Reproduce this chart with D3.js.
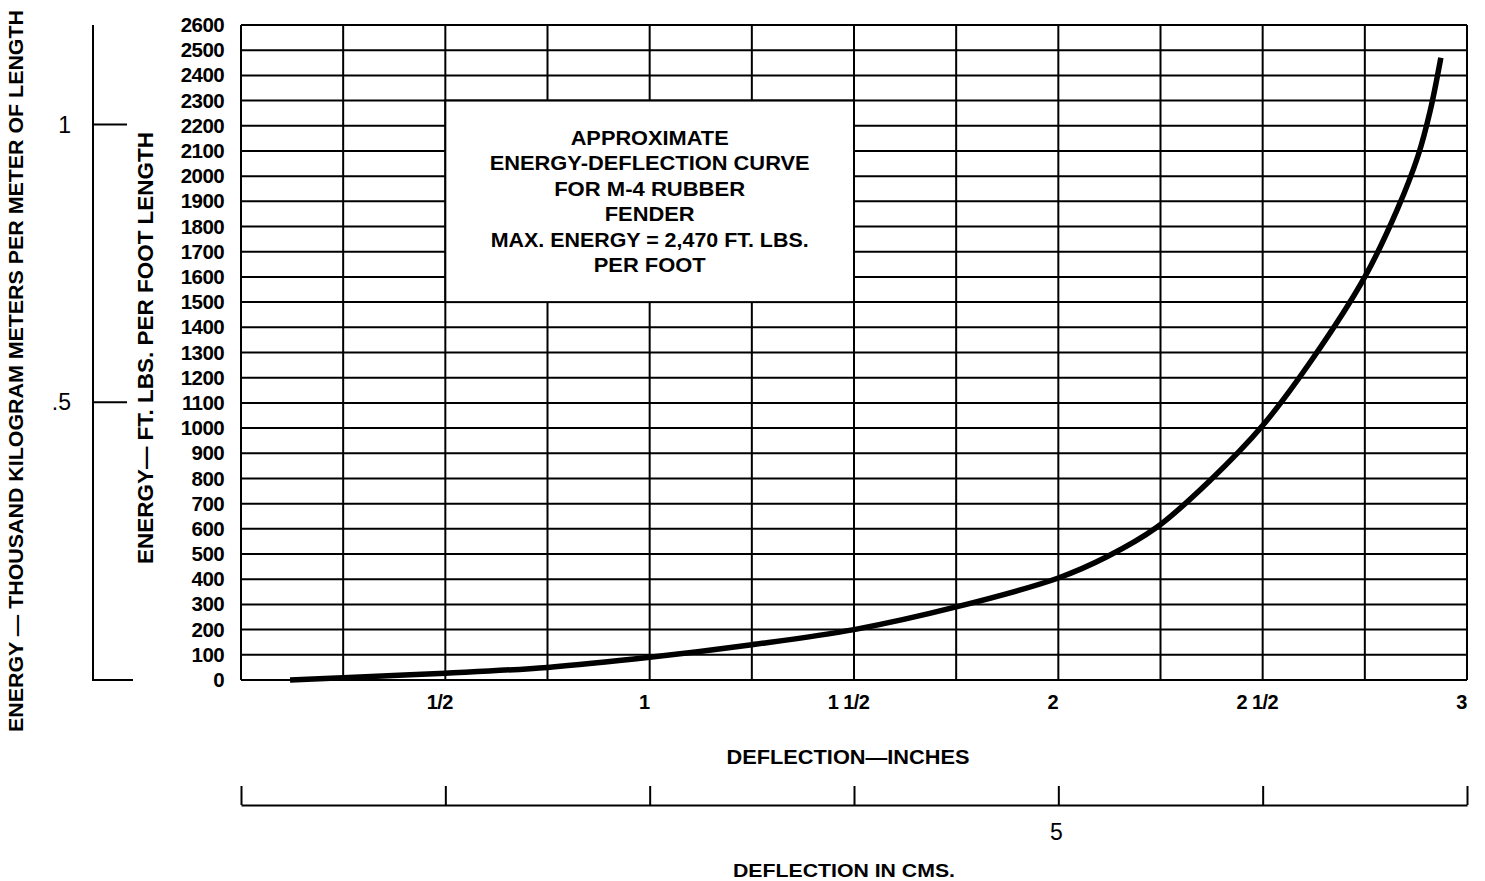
<!DOCTYPE html>
<html>
<head>
<meta charset="utf-8">
<script src="https://cdn.jsdelivr.net/npm/d3@7"></script>
<style>
  html, body { margin: 0; padding: 0; background: #fff; }
  svg { display: block; font-family: "Liberation Sans", Arial, Helvetica, sans-serif; }
</style>
</head>
<body>
<svg id="chart" width="1485" height="881"></svg>
<script>
// ---------- data ----------
const deflectionIn = [0.12, 0.25, 0.5, 0.75, 1.0, 1.25, 1.5, 1.75, 2.0, 2.12, 2.24, 2.37, 2.5, 2.62, 2.75, 2.83, 2.88, 2.91, 2.936];
const energyFtLb   = [0, 9, 27, 50, 90, 140, 200, 290, 405, 490, 605, 790, 1010, 1270, 1600, 1870, 2080, 2260, 2470];

const yTickValues = d3.range(0, 2601, 100);
const xGridValues = d3.range(0, 3.0001, 0.25);
const xTickValues = [0.5, 1, 1.5, 2, 2.5, 3];
const xTickLabels = ["1/2", "1", "1 1/2", "2", "2 1/2", "3"];
const cmTickValues = [0, 1.27, 2.54, 3.81, 5.08, 6.35, 7.62];
const cmTickLabels = ["", "", "", "", "5", "", ""];
const kgTickValues = [0, 0.5, 1];
const kgTickLabels = ["", ".5", "1"];
const boxLines = ["APPROXIMATE", "ENERGY-DEFLECTION CURVE", "FOR M-4 RUBBER", "FENDER", "MAX. ENERGY = 2,470 FT. LBS.", "PER FOOT"];
const boxWidths = [158, 320, 191, 90, 318, 112];

// ---------- scales ----------
const svg = d3.select("#chart");
const x = d3.scaleLinear().domain([0, 3]).range([241, 1467]);
const y = d3.scaleLinear().domain([0, 2600]).range([680, 25]);
const xcm = d3.scaleLinear().domain([0, 7.62]).range([241, 1467]);
const FTLB_TO_KGM = 0.45359 / 1000; // ft-lb/ft -> thousand kg-m/m
const ykg = d3.scaleLinear().domain([0, 2600 * FTLB_TO_KGM]).range([680, 25]);

// ---------- grid ----------
const g = svg.append("g");
g.selectAll("line.h").data(yTickValues).join("line")
  .attr("x1", x(0)).attr("x2", x(3))
  .attr("y1", d => y(d)).attr("y2", d => y(d))
  .attr("stroke", "#000").attr("stroke-width", 2);
g.selectAll("line.v").data(xGridValues).join("line")
  .attr("class", "v")
  .attr("x1", d => x(d)).attr("x2", d => x(d))
  .attr("y1", y(0)).attr("y2", y(2600))
  .attr("stroke", "#000").attr("stroke-width", 2);

// ---------- annotation box ----------
svg.append("rect")
  .attr("x", x(0.5)).attr("y", y(2300))
  .attr("width", x(1.5) - x(0.5)).attr("height", y(1500) - y(2300))
  .attr("fill", "#fff").attr("stroke", "#000").attr("stroke-width", 2);
svg.append("g").selectAll("text").data(boxLines).join("text")
  .attr("x", x(1))
  .attr("y", (d, i) => 145 + i * 25.4)
  .attr("text-anchor", "middle")
  .attr("font-size", 21)
  .attr("font-weight", "bold")
  .attr("textLength", (d, i) => boxWidths[i])
  .attr("lengthAdjust", "spacingAndGlyphs")
  .text(d => d);

// ---------- y axis (ft-lb) ----------
const yAxis = d3.axisLeft(y).tickValues(yTickValues).tickSize(0).tickPadding(0).tickFormat(d3.format("d"));
const ya = svg.append("g").attr("transform", "translate(224,0)").call(yAxis);
ya.select(".domain").remove();
ya.selectAll("text").attr("font-size", 20.5).attr("font-weight", "bold")
  .attr("font-family", "'Liberation Sans', Arial, sans-serif").attr("fill", "#000")
  .attr("letter-spacing", "-0.6");

// ---------- x axis (inches) ----------
const xAxis = d3.axisBottom(x).tickValues(xTickValues).tickSize(0).tickPadding(0)
  .tickFormat((d, i) => xTickLabels[i]);
const xa = svg.append("g").attr("transform", "translate(-6,695)").call(xAxis);
xa.select(".domain").remove();
xa.selectAll("text").attr("font-size", 20).attr("font-weight", "bold")
  .attr("font-family", "'Liberation Sans', Arial, sans-serif").attr("fill", "#000")
  .attr("letter-spacing", "-0.6");

svg.append("text").attr("x", 848).attr("y", 764).attr("text-anchor", "middle")
  .attr("font-size", 20).attr("font-weight", "bold")
  .attr("textLength", 243).attr("lengthAdjust", "spacingAndGlyphs")
  .text("DEFLECTION\u2014INCHES");

// ---------- cm axis ----------
const cmAxis = d3.axisTop(xcm).tickValues(cmTickValues).tickSizeInner(19).tickSizeOuter(0)
  .tickFormat(() => "");
const ca = svg.append("g").attr("transform", "translate(0,805)").call(cmAxis);
ca.selectAll("line, path").attr("stroke", "#000").attr("stroke-width", 2);
svg.append("g").selectAll("text").data(cmTickValues.filter((d, i) => cmTickLabels[i] !== "")).join("text")
  .attr("x", d => xcm(d) - 2).attr("y", 840)
  .attr("text-anchor", "middle").attr("font-size", 23)
  .text(d => cmTickLabels[cmTickValues.indexOf(d)]);
svg.append("text").attr("x", 844).attr("y", 877).attr("text-anchor", "middle")
  .attr("font-size", 18).attr("font-weight", "bold")
  .attr("textLength", 222).attr("lengthAdjust", "spacingAndGlyphs")
  .text("DEFLECTION IN CMS.");

// ---------- secondary y axis (thousand kg-m per m) ----------
const sec = svg.append("g");
sec.append("line").attr("x1", 93).attr("x2", 93).attr("y1", ykg.range()[1]).attr("y2", ykg(0) + 1)
  .attr("stroke", "#000").attr("stroke-width", 2);
sec.selectAll("line.t").data(kgTickValues).join("line").attr("class", "t")
  .attr("x1", 92).attr("x2", d => d === 0 ? 133 : 127)
  .attr("y1", d => ykg(d)).attr("y2", d => ykg(d))
  .attr("stroke", "#000").attr("stroke-width", 2);
sec.selectAll("text").data(kgTickValues.filter((d, i) => kgTickLabels[i] !== "")).join("text")
  .attr("x", 71).attr("y", d => ykg(d) + 8)
  .attr("text-anchor", "end").attr("font-size", 23)
  .text(d => kgTickLabels[kgTickValues.indexOf(d)]);

// ---------- axis titles ----------
svg.append("text")
  .attr("transform", "translate(23,371) rotate(-90)")
  .attr("text-anchor", "middle").attr("font-size", 20.5).attr("font-weight", "bold")
  .attr("textLength", 722).attr("lengthAdjust", "spacingAndGlyphs")
  .text("ENERGY \u2014 THOUSAND KILOGRAM METERS PER METER OF LENGTH");
svg.append("text")
  .attr("transform", "translate(153,348) rotate(-90)")
  .attr("text-anchor", "middle").attr("font-size", 22).attr("font-weight", "bold")
  .attr("textLength", 432).attr("lengthAdjust", "spacingAndGlyphs")
  .text("ENERGY\u2014 FT. LBS. PER FOOT LENGTH");

// ---------- curve ----------
const pts = deflectionIn.map((d, i) => [d, energyFtLb[i]]);
svg.append("path").datum(pts)
  .attr("d", d3.line().x(d => x(d[0])).y(d => y(d[1])).curve(d3.curveCatmullRom.alpha(0.5)))
  .attr("fill", "none").attr("stroke", "#000").attr("stroke-width", 5.5)
  .attr("stroke-linecap", "butt").attr("stroke-linejoin", "round");
</script>
</body>
</html>
